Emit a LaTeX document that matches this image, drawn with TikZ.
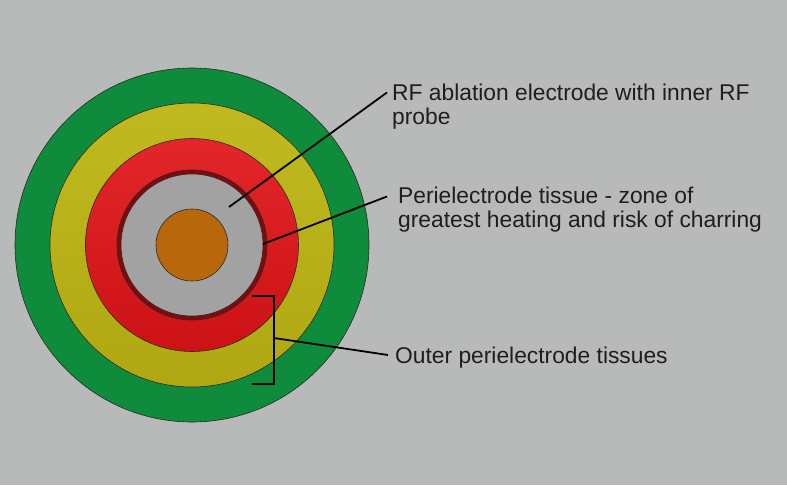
\documentclass[tikz,border=0pt]{standalone}
\usepackage{fontspec}
\setmainfont{Liberation Sans}
\definecolor{bggray}{RGB}{184,186,185}
\definecolor{zgreen}{RGB}{14,140,60}
\definecolor{zyellowT}{RGB}{192,186,32}
\definecolor{zyellowB}{RGB}{176,167,18}
\definecolor{zredT}{RGB}{226,38,42}
\definecolor{zredB}{RGB}{204,18,20}
\definecolor{zdarkred}{RGB}{128,10,12}
\definecolor{zgray}{RGB}{162,162,162}
\definecolor{zorange}{RGB}{184,104,12}
\definecolor{zline}{RGB}{45,40,40}
\definecolor{ztext}{RGB}{30,30,30}
\tikzset{
  zone/.style={draw=zline, line width=0.6pt},
  leader/.style={draw=black, line width=1.8pt},
  label/.style={anchor=base west, inner sep=0pt, align=left, text=ztext,
    font=\fontsize{22.8}{24.5}\selectfont},
}
\begin{document}
\begin{tikzpicture}[x=1pt,y=-1pt]
\fill[bggray] (0,0) rectangle (787,485);
\useasboundingbox (0,0) rectangle (787,485);
\coordinate (c) at (192,245);
% zones
\filldraw[zone, fill=zgreen] (c) circle[radius=177];
\shade[top color=zyellowT, bottom color=zyellowB] (c) circle[radius=142];
\draw[zone] (c) circle[radius=142];
\shade[top color=zredT, bottom color=zredB] (c) circle[radius=106.5];
\draw[zone] (c) circle[radius=106.5];
\filldraw[zone, fill=zdarkred] (c) circle[radius=75];
\filldraw[zone, fill=zgray] (c) circle[radius=71];
\filldraw[zone, fill=zorange] (c) circle[radius=36];
% labels (base anchor = baseline of last line)
\node[label] (lab1) at (392,124.5) {RF ablation electrode with inner RF\\probe};
\node[label] (lab2) at (398,227.5) {Perielectrode tissue - zone of\\greatest heating and risk of charring};
\node[label] (lab3) at (395,363) {Outer perielectrode tissues};
% connector points
\coordinate (p1) at (229,207);
\coordinate (p2) at (263,244);
\coordinate (b1) at (252,296);
\coordinate (b2) at (274,296);
\coordinate (b3) at (274,384);
\coordinate (b4) at (252,384);
\coordinate (p3) at (274,338);
\draw[leader] (p1) -- ([xshift=-5pt,yshift=32pt]lab1.base west);
\draw[leader] (p2) -- ([xshift=-11pt,yshift=31pt]lab2.base west);
\draw[leader] (b1) -- (b2) -- (b3) -- (b4);
\draw[leader] (p3) -- ([xshift=-7pt,yshift=8pt]lab3.base west);
\end{tikzpicture}
\end{document}
